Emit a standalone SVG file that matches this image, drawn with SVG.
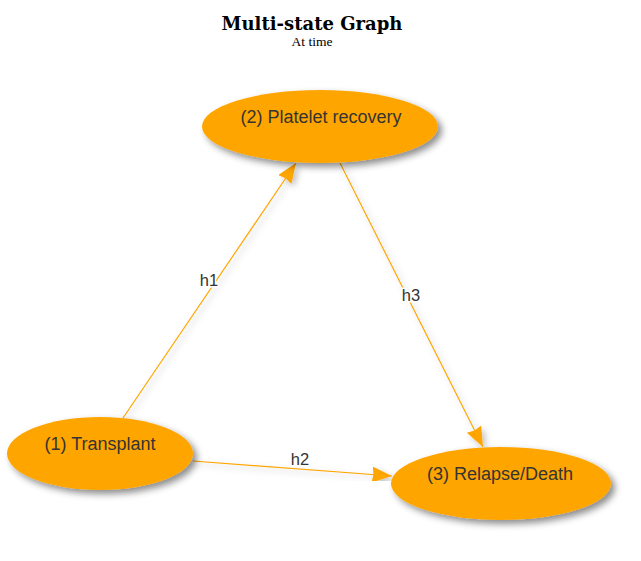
<svg xmlns="http://www.w3.org/2000/svg" width="641" height="561" viewBox="0 0 641 561">
<style>
.node{fill:#FFA500;filter:url(#sh)}
.nlabel{font-family:"Liberation Sans",Arial,sans-serif;font-size:18px;fill:#343434;text-anchor:middle}
.edge{stroke:#FFA500;stroke-width:1.2;fill:none;filter:url(#esh)}
.elabel{font-family:"Liberation Sans",Arial,sans-serif;font-size:16.5px;fill:#343434;text-anchor:middle;stroke:#fff;stroke-width:3;paint-order:stroke}
.title{font-family:"DejaVu Serif","Liberation Serif",serif;font-weight:bold;font-size:18px;text-anchor:middle;fill:#000}
.sub{font-family:"Liberation Serif",serif;font-size:13.5px;text-anchor:middle;fill:#000}
</style>
<defs>
<filter id="sh" x="-20%" y="-30%" width="150%" height="170%">
<feDropShadow dx="4" dy="4" stdDeviation="3.5" flood-color="#000" flood-opacity="0.45"/>
</filter>
<filter id="esh" x="-20%" y="-20%" width="150%" height="150%">
<feDropShadow dx="3" dy="3" stdDeviation="3" flood-color="#000" flood-opacity="0.25"/>
</filter>
<marker id="arr" markerUnits="userSpaceOnUse" markerWidth="22" markerHeight="18" refX="20" refY="8" orient="auto">
<path d="M0,0 L20,8 L0,16 L1.5,8 z" fill="#FFA500"/>
</marker>
</defs>
<g id="title">
<text class="title" x="312" y="30">Multi-state Graph</text>
<text class="sub" x="312" y="46">At time</text>
</g>
<g id="edges">
<line class="edge" x1="123" y1="418" x2="296" y2="163" marker-end="url(#arr)"/>
<line class="edge" x1="193" y1="461" x2="392" y2="476" marker-end="url(#arr)"/>
<line class="edge" x1="340" y1="163" x2="483" y2="447" marker-end="url(#arr)"/>
<text class="elabel" x="209" y="286">h1</text>
<text class="elabel" x="300" y="465">h2</text>
<text class="elabel" x="411" y="301">h3</text>
</g>
<g id="node2">
<ellipse class="node" cx="320" cy="126.5" rx="118" ry="36.5"/>
<text class="nlabel" x="321" y="123">(2) Platelet recovery</text>
</g>
<g id="node1">
<ellipse class="node" cx="100" cy="453.5" rx="93" ry="36.5"/>
<text class="nlabel" x="100" y="450">(1) Transplant</text>
</g>
<g id="node3">
<ellipse class="node" cx="501" cy="483.5" rx="110" ry="36.5"/>
<text class="nlabel" x="500" y="480">(3) Relapse/Death</text>
</g>
</svg>
